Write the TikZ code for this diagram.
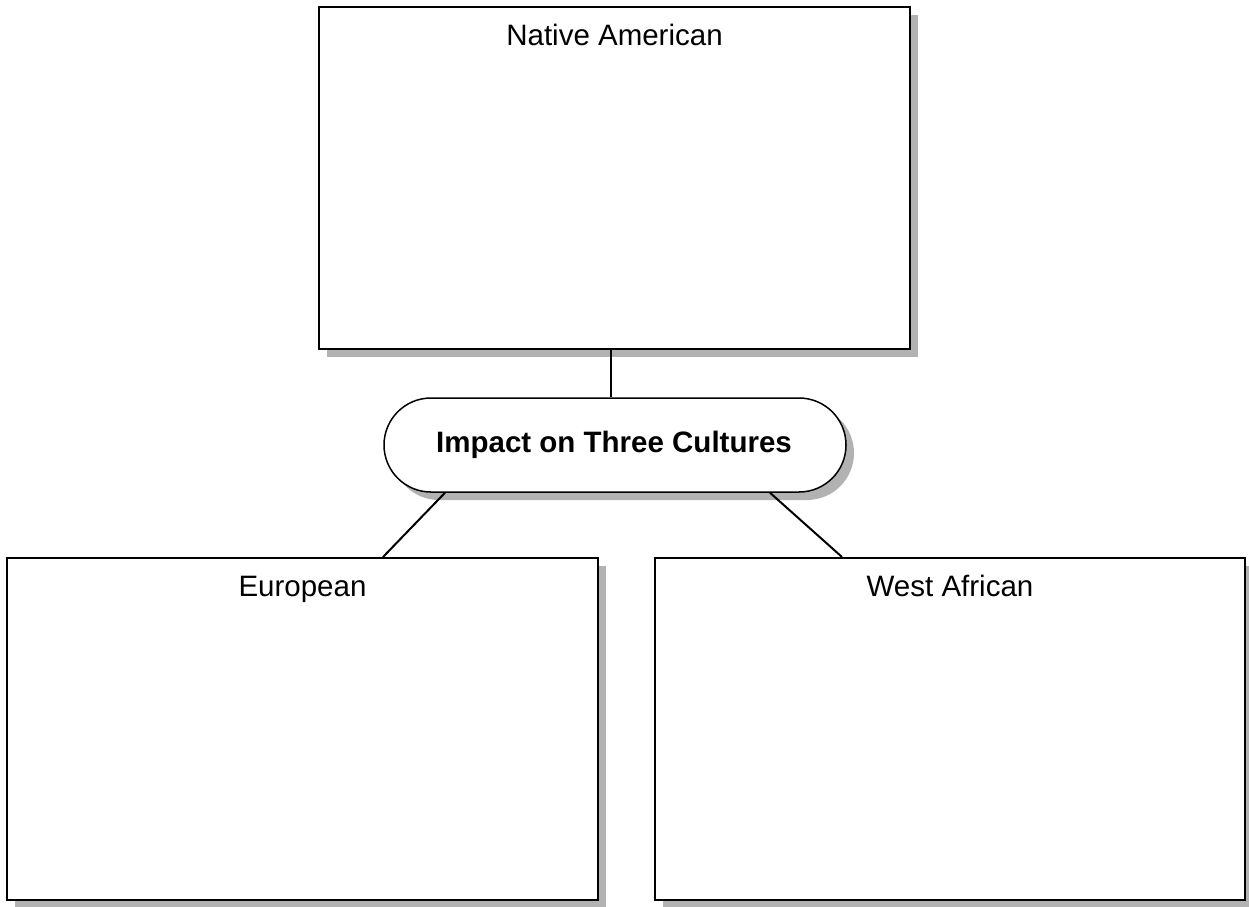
\documentclass[tikz,border=0pt]{standalone}
\usepackage{fontspec}
\setmainfont{Liberation Sans}
\usetikzlibrary{shadows,calc}
\begin{document}
\begin{tikzpicture}[x=1pt,y=-1pt,
  box/.style={draw=black, line width=2pt, fill=white, rectangle, inner sep=0pt,
    general shadow={fill=black!30, shadow xshift=8pt, shadow yshift=-8pt}},
  pill/.style={draw=black, line width=1.5pt, fill=white, rectangle, rounded corners=47pt, inner sep=0pt,
    general shadow={fill=black!30, shadow xshift=8pt, shadow yshift=-8pt}},
  lbl/.style={anchor=base, inner sep=0pt, font=\fontsize{29.5}{34}\selectfont},
  conn/.style={line width=2pt, black}]
\useasboundingbox (0,0) rectangle (1249,906);
\fill[white] (0,0) rectangle (1249,906);
\node[box, minimum width=591pt, minimum height=342pt] (na) at (614.5,178) {};
\node[box, minimum width=591pt, minimum height=342pt] (eu) at (302.5,729) {};
\node[box, minimum width=590pt, minimum height=342pt] (wa) at (950,729) {};
\node[pill, minimum width=462pt, minimum height=94pt] (ic) at (615,445) {};
\node[lbl] (tna) at (614.5,45) {Native American};
\node[lbl] (teu) at (302.5,596) {European};
\node[lbl] (twa) at (950,596) {West African};
\node[lbl, font=\bfseries\fontsize{29.5}{34}\selectfont] (tic) at (614,452) {Impact on Three Cultures};
\draw[conn] ($(na.south)+(-3.5,0)$) -- ($(ic.north)+(-4,0)$);
\draw[conn] ($(ic.south)+(-170,0)$) -- ($(eu.north)+(80.5,0)$);
\draw[conn] ($(ic.south)+(155,0)$) -- ($(wa.north)+(-108,0)$);
\end{tikzpicture}
\end{document}
